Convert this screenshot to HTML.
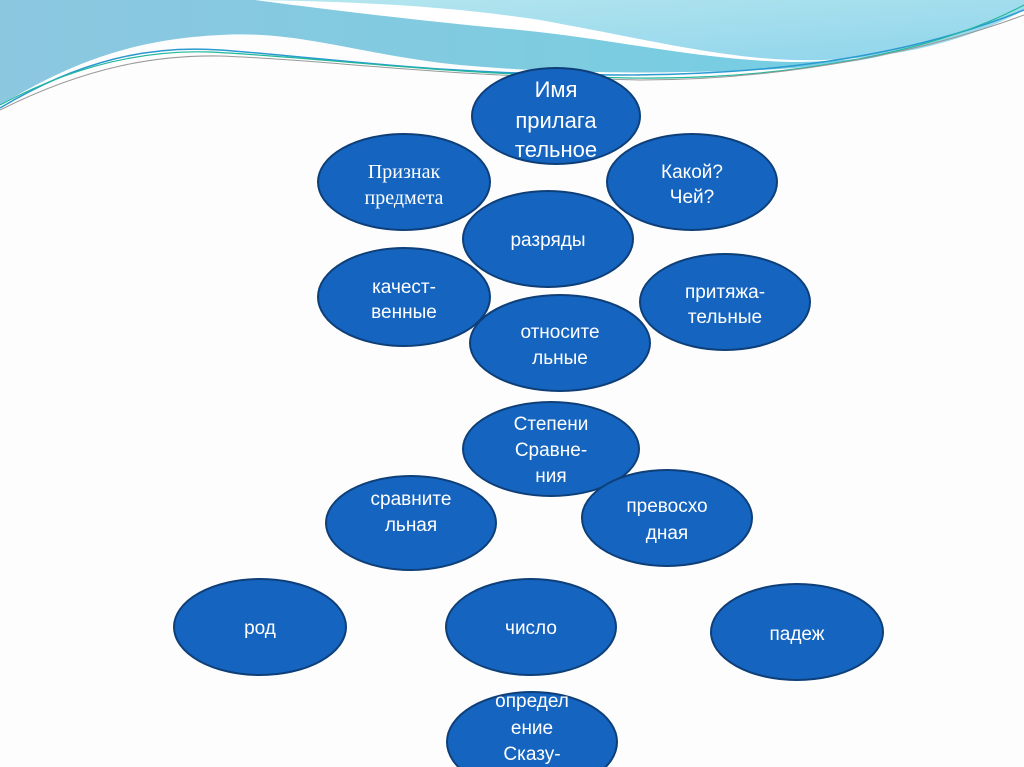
<!DOCTYPE html>
<html><head><meta charset="utf-8"><style>
html,body{margin:0;padding:0;width:1024px;height:767px;overflow:hidden;background:#fdfdfd}
svg{display:block}
text{font-family:"Liberation Sans",sans-serif;font-size:19px;fill:#fff;text-anchor:middle}
.b{font-size:22px}
.s{font-family:"Liberation Serif",serif;font-size:20px}
</style></head><body>
<svg width="1024" height="767" viewBox="0 0 1024 767">
<defs>
<linearGradient id="g1" x1="0" y1="0" x2="1" y2="0">
<stop offset="0" stop-color="#8cc7e0"/><stop offset="0.5" stop-color="#7fcbe0"/><stop offset="1" stop-color="#6fd0e4"/>
</linearGradient>
<linearGradient id="g2" x1="0" y1="0" x2="1" y2="1">
<stop offset="0" stop-color="#b5e6ee"/><stop offset="1" stop-color="#8fd4ec"/>
</linearGradient>
</defs>
<path d="M0,105 C60,70 120,40 220,35 C300,30 360,55 460,65 C540,72 620,75 760,70 C840,66 900,60 1024,10 V0 H0 Z" fill="url(#g1)"/>
<path d="M255,0 H1024 V10 C960,45 880,62 790,62 C700,60 620,40 520,30 C430,22 330,10 255,0 Z" fill="#fff"/>
<path d="M256,0 H1024 V10 C960,45 880,62 795,60 C720,58 650,40 540,20 C460,8 380,2 256,0 Z" fill="url(#g2)"/>
<path d="M0,108 C80,60 150,45 220,50 C330,58 440,75 620,75 C760,75 900,60 1024,10" fill="none" stroke="#2a9ad0" stroke-width="1.5"/>
<path d="M0,105 C80,62 150,50 210,52 C330,58 430,74 630,78 C780,80 930,55 1024,5" fill="none" stroke="#20b89a" stroke-width="1.2"/>
<path d="M0,110 C90,65 160,55 220,56 C330,60 430,76 640,80 C790,80 930,50 1024,15" fill="none" stroke="#999" stroke-width="1"/>
<g fill="#1565c0" stroke="#0e3f78" stroke-width="2">
<ellipse cx="556" cy="116" rx="84" ry="48"/>
<ellipse cx="404" cy="182" rx="86" ry="48"/>
<ellipse cx="692" cy="182" rx="85" ry="48"/>
<ellipse cx="548" cy="239" rx="85" ry="48"/>
<ellipse cx="404" cy="297" rx="86" ry="49"/>
<ellipse cx="725" cy="302" rx="85" ry="48"/>
<ellipse cx="560" cy="343" rx="90" ry="48"/>
<ellipse cx="551" cy="449" rx="88" ry="47"/>
<ellipse cx="411" cy="523" rx="85" ry="47"/>
<ellipse cx="667" cy="518" rx="85" ry="48"/>
<ellipse cx="260" cy="627" rx="86" ry="48"/>
<ellipse cx="531" cy="627" rx="85" ry="48"/>
<ellipse cx="797" cy="632" rx="86" ry="48"/>
<ellipse cx="532" cy="742" rx="85" ry="50"/>
</g>
<text class="b" x="556" y="97">Имя</text><text class="b" x="556" y="128">прилага</text><text class="b" x="556" y="157">тельное</text>
<text class="s" x="404" y="178">Признак</text><text class="s" x="404" y="204">предмета</text>
<text x="692" y="178">Какой?</text><text x="692" y="203">Чей?</text>
<text x="548" y="246">разряды</text>
<text x="404" y="293">качест-</text><text x="404" y="318">венные</text>
<text x="725" y="298">притяжа-</text><text x="725" y="323">тельные</text>
<text x="560" y="338">относите</text><text x="560" y="364">льные</text>
<text x="551" y="430">Степени</text><text x="551" y="456">Сравне-</text><text x="551" y="482">ния</text>
<text x="411" y="505">сравните</text><text x="411" y="531">льная</text>
<text x="667" y="512">превосхо</text><text x="667" y="539">дная</text>
<text x="260" y="634">род</text>
<text x="531" y="634">число</text>
<text x="797" y="640">падеж</text>
<text x="532" y="707">определ</text><text x="532" y="734">ение</text><text x="532" y="760">Сказу-</text>
</svg>
</body></html>
